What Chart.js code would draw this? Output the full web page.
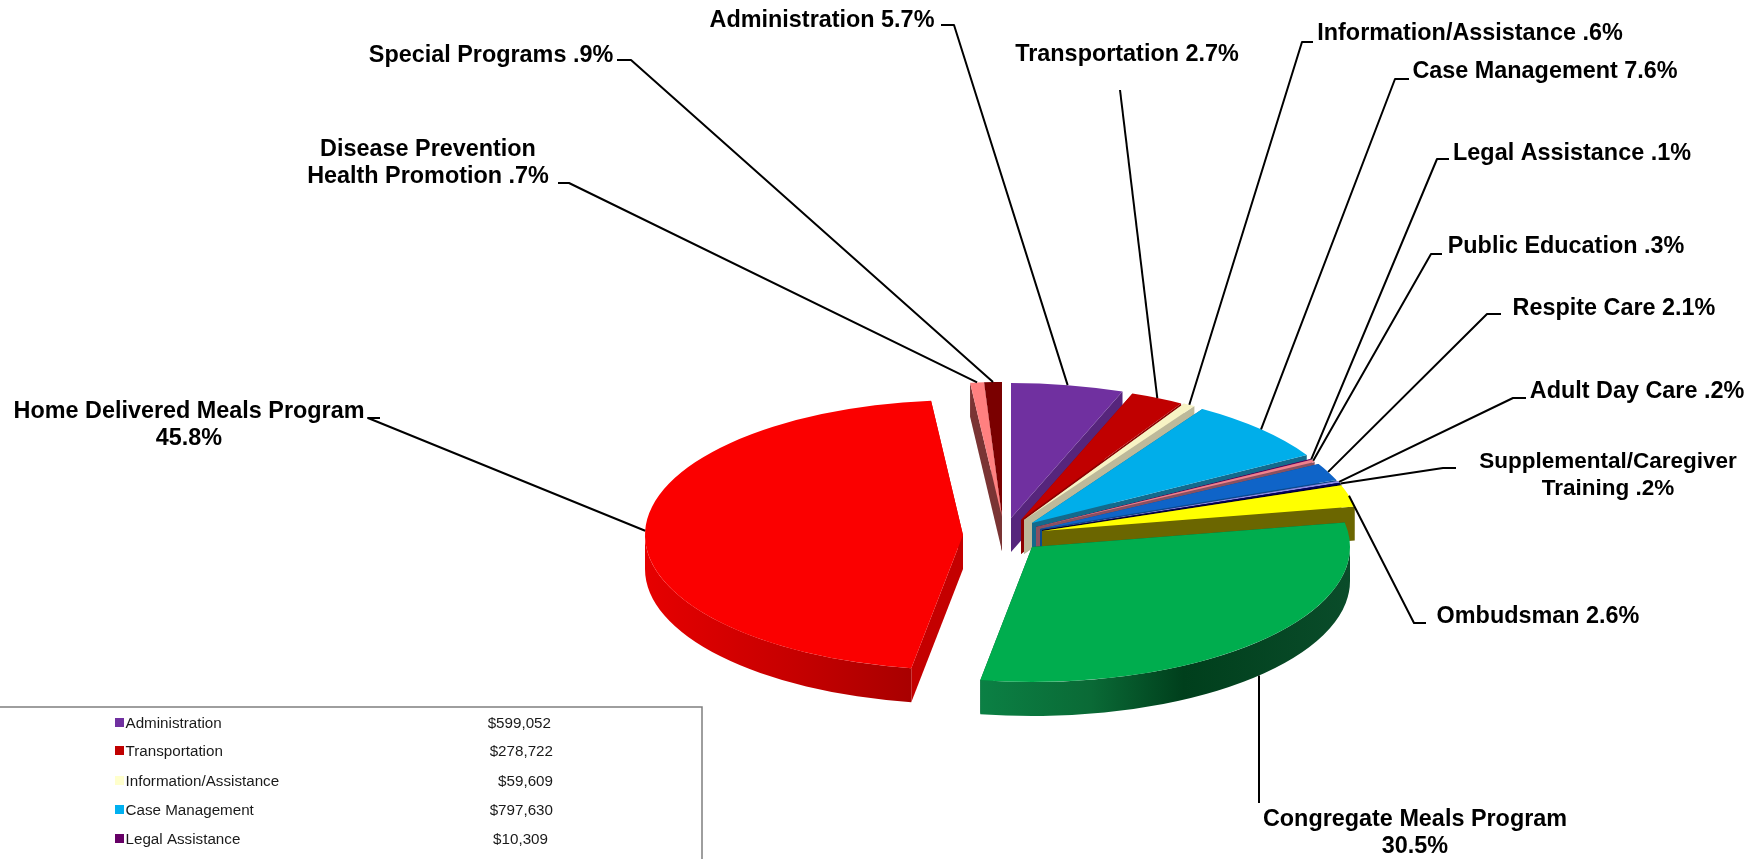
<!DOCTYPE html>
<html>
<head>
<meta charset="utf-8">
<title>Program expenditures</title>
<style>
  html, body { margin: 0; padding: 0; background: #fff; overflow: hidden; }
  canvas { display: block; }
</style>
<script src="https://cdn.jsdelivr.net/npm/chart.js@4/dist/chart.umd.min.js"></script>
</head>
<body>
<canvas id="pie" width="1760" height="859"></canvas>
<script>
// Program names and their share of the budget, clockwise from twelve o'clock
const categories = ['Administration', 'Transportation', 'Information/Assistance', 'Case Management',
  'Legal Assistance', 'Public Education', 'Respite Care', 'Adult Day Care', 'Supplemental/Caregiver Training',
  'Ombudsman', 'Congregate Meals Program', 'Home Delivered Meals Program', 'Disease Prevention Health Promotion',
  'Special Programs'];
const shares = [5.7, 2.7, 0.6, 7.6, 0.1, 0.3, 2.1, 0.2, 0.2, 2.6, 30.5, 45.8, 0.7, 0.9];

// Top face and side wall colours of each slice
const faceColors = ['#7030a0', '#c00000', '#f7f3c4', '#00aeea', '#660066', '#f0808c', '#0f64c8', '#8c8ce6',
  '#000060', '#ffff00', '#00ad4e', '#fb0000', '#ff8080', '#7a0000'];
const wallColors = ['#56257c', '#8c0000', '#bdb99a', '#146a8c', '#400040', '#8a5060', '#0c4a8c', '#50508c',
  '#000030', '#6b6600', '#0a5a30', '#c40000', '#7a3434', '#4a0000'];

// Cost table shown in the lower left corner
const tableLabels = ['Administration', 'Transportation', 'Information/Assistance', 'Case Management', 'Legal Assistance'];
const tableAmounts = ['$599,052', '$278,722', '$59,609', '$797,630', '$10,309'];
const tableColors = ['#7030a0', '#c00000', '#ffffcc', '#00b0f0', '#660066'];
const tableAmountRight = [551, 553, 553, 553, 548];
const tableRowY = [723, 751, 781, 810, 839];

// Projection of the tilted pie
const RADIUS = 318;
const SQUASH = 0.4245;
const DEPTH = 34;
// Where each exploded slice has its tip
const sliceTips = [[1011, 518], [1021, 520], [1024, 520], [1032, 523], [1036, 527], [1036, 527], [1040, 529],
  [1042, 530], [1042, 530], [1042, 531], [1032, 547], [963, 535], [1002, 517], [1002, 517]];
// Far slices first so the nearer ones overlap them
const paintOrder = [13, 12, 0, 1, 2, 3, 4, 5, 6, 7, 8, 9, 10, 11];

// Callout text for each slice: lines, centre x, first line y, elbow of the leader line
const callouts = [
  { lines: ['Administration 5.7%'], x: 822, y: 21, elbow: [[941, 25], [954, 25]] },
  { lines: ['Transportation 2.7%'], x: 1127, y: 55, elbow: [[1120, 90]] },
  { lines: ['Information/Assistance .6%'], x: 1470, y: 34, elbow: [[1313, 42], [1302, 42]] },
  { lines: ['Case Management 7.6%'], x: 1545, y: 72, elbow: [[1409, 79], [1395, 79]] },
  { lines: ['Legal Assistance .1%'], x: 1572, y: 154, elbow: [[1449, 159], [1437, 159]] },
  { lines: ['Public Education .3%'], x: 1566, y: 247, elbow: [[1442, 254], [1431, 254]] },
  { lines: ['Respite Care 2.1%'], x: 1614, y: 309, elbow: [[1501, 314], [1487, 314]] },
  { lines: ['Adult Day Care .2%'], x: 1637, y: 392, elbow: [[1526, 398], [1513, 398]] },
  { lines: ['Supplemental/Caregiver', 'Training .2%'], x: 1608, y: 462, lead: 27, size: 22.5, elbow: [[1456, 468], [1443, 468]] },
  { lines: ['Ombudsman 2.6%'], x: 1538, y: 617, elbow: [[1426, 623], [1414, 623]] },
  { lines: ['Congregate Meals Program', '30.5%'], x: 1415, y: 820, lead: 27, elbow: [[1259, 803]], onWall: true },
  { lines: ['Home Delivered Meals Program', '45.8%'], x: 189, y: 412, lead: 27, elbow: [[380, 418], [368, 418]] },
  { lines: ['Disease Prevention', 'Health Promotion .7%'], x: 428, y: 150, lead: 27, elbow: [[558, 183], [569, 183]] },
  { lines: ['Special Programs .9%'], x: 491, y: 56, elbow: [[617, 60], [631, 60]] }
];

const rimPoint = (i, angle) => [
  sliceTips[i][0] + RADIUS * Math.cos(angle),
  sliceTips[i][1] + RADIUS * SQUASH * Math.sin(angle)
];

// Horizontal shading along the curved wall of the two large slices
function wallFill(ctx, i) {
  const [tx] = sliceTips[i];
  if (categories[i] === 'Home Delivered Meals Program') {
    const g = ctx.createLinearGradient(tx - RADIUS, 0, tx - 50, 0);
    g.addColorStop(0, '#e60000');
    g.addColorStop(0.55, '#c60000');
    g.addColorStop(1, '#a80000');
    return g;
  }
  if (categories[i] === 'Congregate Meals Program') {
    const g = ctx.createLinearGradient(tx - 52, 0, tx + RADIUS, 0);
    g.addColorStop(0, '#0b8044');
    g.addColorStop(0.3, '#0a6a36');
    g.addColorStop(0.55, '#003f1c');
    g.addColorStop(1, '#0a4c2a');
    return g;
  }
  return wallColors[i];
}

function drawWalls(ctx, el, i) {
  const [tx, ty] = sliceTips[i];
  const a0 = el.startAngle, a1 = el.endAngle;
  const radial = angle => {
    const [px, py] = rimPoint(i, angle);
    ctx.beginPath();
    ctx.moveTo(tx, ty);
    ctx.lineTo(px, py);
    ctx.lineTo(px, py + DEPTH);
    ctx.lineTo(tx, ty + DEPTH);
    ctx.closePath();
    ctx.fillStyle = wallColors[i];
    ctx.fill();
  };
  radial(a0);
  radial(a1);
  // The curved wall only shows on the near half of the rim
  const from = Math.max(a0, 0), to = Math.min(a1, Math.PI);
  if (to > from) {
    ctx.beginPath();
    ctx.ellipse(tx, ty, RADIUS, RADIUS * SQUASH, 0, from, to);
    ctx.ellipse(tx, ty + DEPTH, RADIUS, RADIUS * SQUASH, 0, to, from, true);
    ctx.closePath();
    ctx.fillStyle = wallFill(ctx, i);
    ctx.fill();
  }
}

const tiltedPie = {
  id: 'tiltedPie',
  beforeDatasetDraw(chart) {
    const ctx = chart.ctx;
    const arcs = chart.getDatasetMeta(0).data;
    paintOrder.forEach(i => {
      const el = arcs[i];
      drawWalls(ctx, el, i);
      ctx.save();
      ctx.translate(sliceTips[i][0], sliceTips[i][1]);
      ctx.scale(1, SQUASH);
      ctx.translate(-el.x, -el.y);
      el.draw(ctx);
      ctx.restore();
    });
    return false;
  }
};

const calloutLabels = {
  id: 'calloutLabels',
  afterDatasetsDraw(chart) {
    const ctx = chart.ctx;
    const arcs = chart.getDatasetMeta(0).data;
    ctx.save();
    ctx.strokeStyle = '#000';
    ctx.lineWidth = 2;
    ctx.lineJoin = 'round';
    callouts.forEach((c, i) => {
      const el = arcs[i];
      const [px, py] = rimPoint(i, (el.startAngle + el.endAngle) / 2);
      ctx.beginPath();
      c.elbow.forEach(([x, y], k) => (k ? ctx.lineTo(x, y) : ctx.moveTo(x, y)));
      ctx.lineTo(px, py + (c.onWall ? DEPTH : 0));
      ctx.stroke();
      ctx.fillStyle = '#000';
      ctx.font = `bold ${c.size || 23.4}px "Liberation Sans", Arial, sans-serif`;
      ctx.textAlign = 'center';
      ctx.textBaseline = 'middle';
      c.lines.forEach((t, k) => ctx.fillText(t, c.x, c.y + k * (c.lead || 0)));
    });
    ctx.restore();
  }
};

const costTable = {
  id: 'costTable',
  afterDraw(chart) {
    const ctx = chart.ctx;
    ctx.save();
    ctx.strokeStyle = '#7f7f7f';
    ctx.lineWidth = 1.5;
    ctx.beginPath();
    ctx.moveTo(0, 707);
    ctx.lineTo(702, 707);
    ctx.lineTo(702, 859);
    ctx.stroke();
    ctx.textBaseline = 'middle';
    tableLabels.forEach((label, i) => {
      const y = tableRowY[i];
      ctx.fillStyle = tableColors[i];
      ctx.fillRect(115, y - 5, 9, 9);
      ctx.fillStyle = '#1a1a1a';
      ctx.font = '15.5px "Liberation Sans", Arial, sans-serif';
      ctx.textAlign = 'left';
      ctx.fillText(label, 125.5, y + 1, ctx.measureText(label).width * 0.98);
      ctx.textAlign = 'right';
      ctx.fillText(tableAmounts[i], tableAmountRight[i], y + 1, ctx.measureText(tableAmounts[i]).width * 0.98);
    });
    ctx.restore();
  }
};

new Chart(document.getElementById('pie'), {
  type: 'pie',
  data: {
    labels: categories,
    datasets: [{ data: shares, backgroundColor: faceColors, borderWidth: 0, hoverOffset: 0 }]
  },
  options: {
    responsive: false,
    animation: false,
    events: [],
    radius: RADIUS,
    layout: { padding: { top: 200 } },
    plugins: { legend: { display: false }, tooltip: { enabled: false } }
  },
  plugins: [tiltedPie, calloutLabels, costTable]
});
</script>
</body>
</html>
